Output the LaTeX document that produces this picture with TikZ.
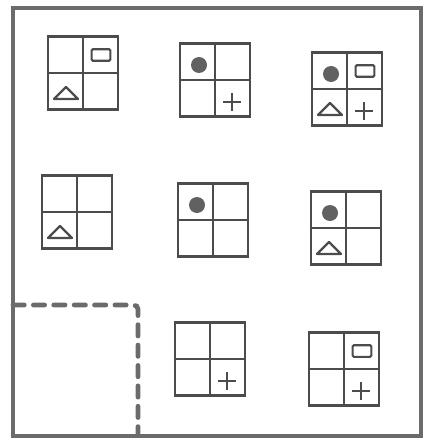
\documentclass[tikz,border=0pt]{standalone}
\usetikzlibrary{calc}
\definecolor{ink}{gray}{0.30}
\definecolor{rim}{gray}{0.42}
\definecolor{blob}{gray}{0.38}

\begin{document}
\begin{tikzpicture}[
  x=0.025cm, y=-0.025cm,
  frame/.style={draw=rim, line width=3pt},
  cut/.style={draw=rim, line width=3.4pt, line cap=round, dash pattern=on 8pt off 6.5pt, rounded corners=3pt},
  panel/.style={draw=ink, line width=1.6pt, minimum width=1.75cm, minimum height=1.82cm, inner sep=0pt},
  rule/.style={draw=ink, line width=1.5pt},
  dot/.style={circle, fill=blob, minimum size=0.4cm, inner sep=0pt},
  tag/.style={draw=ink, line width=1.5pt, rounded corners=1pt, minimum width=0.47cm, minimum height=0.29cm, inner sep=0pt},
  sym/.style={draw=ink, line width=1.6pt, line join=round},
]
\useasboundingbox (0,0) rectangle (425,440);

\node[frame, minimum width=10.2cm, minimum height=10.7cm, anchor=north west] (box) at (11,6) {};

% panels: name / x / y / dot / tag / triangle / plus
\foreach \n/\x/\y/\d/\r/\t/\p in {g1/83/73/0/1/1/0, g2/215/80/1/0/0/1, g3/347/89/1/1/1/1,
                                  g4/77/212/0/0/1/0, g5/213/220/1/0/0/0, g6/346/228/1/0/1/0,
                                  g7/210/359/0/0/0/1, g8/344/369/0/1/0/1} {
  \node[panel] (\n) at (\x,\y) {};
  \draw[rule] (\n.north) -- (\n.south);
  \draw[rule] (\n.west) -- (\n.east);
  \ifnum\d=1 \node[dot] at ($(\n.center)+(-16,-15)$) {}; \fi
  \ifnum\r=1 \node[tag] at ($(\n.center)+(18,-18)$) {}; \fi
  \ifnum\t=1 \draw[sym] ($(\n.center)+(-17,20)$) +(-12,6) -- +(12,6) -- +(0,-6) -- cycle; \fi
  \ifnum\p=1 \draw[sym] ($(\n.center)+(17,22)$) +(-9,0) -- +(9,0) +(0,-9) -- +(0,9); \fi
}

% dashed cut-off corner
\coordinate (cutA) at (13,305);
\coordinate (cutB) at (138,305);
\coordinate (cutC) at (138,434);
\draw[cut] (cutA) -- (cutB) -- (cutC);
\end{tikzpicture}
\end{document}
